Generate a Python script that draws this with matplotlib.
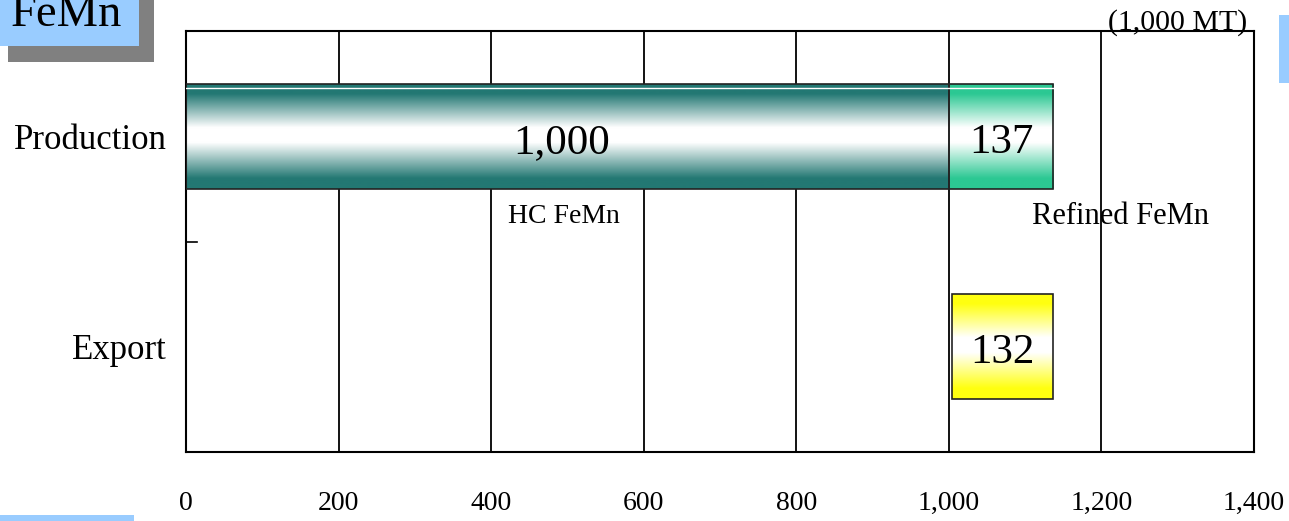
import matplotlib.pyplot as plt
import numpy as np
from matplotlib.colors import LinearSegmentedColormap
from matplotlib.patches import Rectangle

plt.rcParams['font.family'] = ['Liberation Serif', 'DejaVu Serif']

# data (1,000 MT)
categories = ['Production', 'Export']
hc_prod = 1000
refined_prod = 137
export_start = 1004
export_val = 132
xticks = [0, 200, 400, 600, 800, 1000, 1200, 1400]
xtick_labels = ['0', '200', '400', '600', '800', '1,000', '1,200', '1,400']

fig = plt.figure(figsize=(12.89, 5.21), dpi=100)
ax = fig.add_axes([186/1289, 1-452/521, (1254-186)/1289, (452-31)/521])

def grad_cmap(c):
    return LinearSegmentedColormap.from_list('g', [(0, c), (0.1, c), (0.42, 'white'), (0.56, 'white'), (0.9, c), (1, c)])

def grad_bar(y, left, width, color, h=0.5):
    b = ax.barh(y, width, left=left, height=h, color='none', edgecolor='#222222', linewidth=1.2, zorder=3)[0]
    g = np.linspace(0, 1, 256).reshape(-1, 1)
    im = ax.imshow(g, cmap=grad_cmap(color), aspect='auto', zorder=2,
                   extent=[left, left + width, y + h/2, y - h/2], origin='upper')
    im.set_clip_path(b)
    return b

grad_bar(0, 0, hc_prod, '#237873')
grad_bar(0, hc_prod, refined_prod, '#2cc893')
grad_bar(1, export_start, export_val, '#ffff10')
# thin highlight near the top of the production bar
ax.plot([0, hc_prod + refined_prod], [-0.228, -0.228], color='white', lw=1, zorder=4)

ax.text(hc_prod/2 - 8, 0.03, '1,000', ha='center', va='center', fontsize=31, zorder=5)
ax.text(hc_prod + refined_prod/2, 0.03, f'{refined_prod}', ha='center', va='center', fontsize=31, zorder=5)
ax.text(export_start + export_val/2, 1.03, f'{export_val}', ha='center', va='center', fontsize=31, zorder=5)
ax.text(hc_prod/2 - 5, 0.38, 'HC FeMn', ha='center', va='center', fontsize=20, zorder=5)
ax.text(1225, 0.38, 'Refined FeMn', ha='center', va='center', fontsize=22, zorder=5)

ax.set_xlim(0, 1400)
ax.set_ylim(1.5, -0.5)
ax.set_xticks(xticks)
ax.set_xticklabels(xtick_labels, fontsize=20)
ax.set_yticks([0, 1])
ax.set_yticklabels(categories, fontsize=25)
ax.tick_params(axis='x', length=0, pad=28)
ax.tick_params(axis='y', length=0, pad=14)
ax.grid(axis='x', color='black', lw=1.3, zorder=0)
ax.set_axisbelow(True)
for s in ax.spines.values():
    s.set_linewidth(1.5)
# small inward tick between categories
ax.plot([0, 14], [0.5, 0.5], color='black', lw=1.2, clip_on=False)

fig.text(1247/1289, 1-30/521, '(1,000 MT)', ha='right', va='baseline', fontsize=21.5)

# title box with shadow
fig.patches.append(Rectangle((8/1289, 1-62/521), 146/1289, 62/521, transform=fig.transFigure,
                             facecolor='#808080', edgecolor='none', zorder=0))
fig.patches.append(Rectangle((0, 1-46/521), 139/1289, 46/521, transform=fig.transFigure,
                             facecolor='#99ccff', edgecolor='none', zorder=1))
fig.text(66/1289, 1-26/521, 'FeMn', ha='center', va='baseline', fontsize=33.5, zorder=3)
fig.patches.append(Rectangle((1279/1289, 1-83/521), 10/1289, 68/521, transform=fig.transFigure,
                             facecolor='#99ccff', edgecolor='none'))
fig.patches.append(Rectangle((0, 0), 134/1289, 6/521, transform=fig.transFigure,
                             facecolor='#99ccff', edgecolor='none'))

fig.savefig('out.png', dpi=100)
